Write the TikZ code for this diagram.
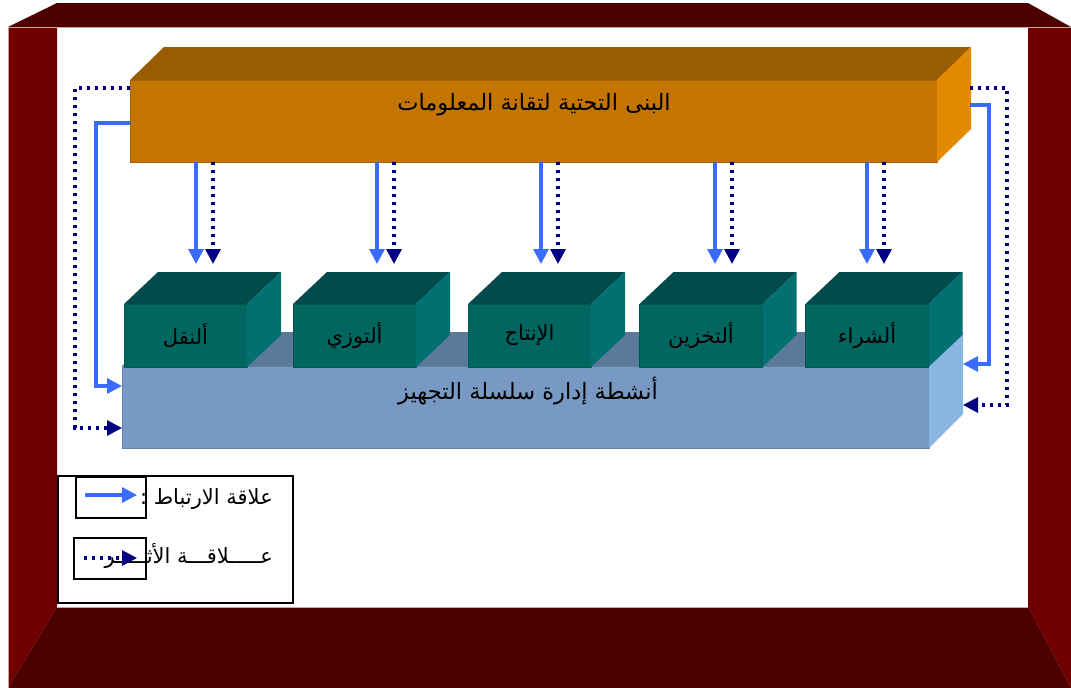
\documentclass[tikz,border=0pt]{standalone}
\usepackage{fontspec}
\newfontfamily\arabicfont[Script=Arabic]{DejaVu Sans}
\TeXXeTstate=1
\usetikzlibrary{arrows.meta,calc}

\definecolor{wallfloor}{HTML}{4C0000}
\definecolor{wallside}{HTML}{700000}
\definecolor{wallline}{HTML}{C8A4A4}
\definecolor{itfront}{HTML}{C47400}
\definecolor{ittop}{HTML}{9A5C00}
\definecolor{itside}{HTML}{E28A00}
\definecolor{actfront}{HTML}{00665F}
\definecolor{acttop}{HTML}{004C4C}
\definecolor{actside}{HTML}{007070}
\definecolor{scmfront}{HTML}{7799C3}
\definecolor{scmtop}{HTML}{5B7A99}
\definecolor{scmside}{HTML}{8AB6E2}
\definecolor{linkblue}{HTML}{3A6BFF}
\definecolor{impactnavy}{HTML}{000080}

\newcommand\artxt[1]{{\arabicfont\beginR #1\endR}}

\begin{document}
\begin{tikzpicture}[x=1pt, y=-1pt,
  face/.style = {inner sep=0pt, outer sep=0pt, fill=#1, draw=#1!85!black, line width=0.6pt},
  lbl/.style = {inner sep=0pt, font=\fontsize{22.5}{26}\selectfont},
  smalllbl/.style = {inner sep=0pt, font=\fontsize{21}{25}\selectfont},
  link/.style = {draw=linkblue, line width=3.2pt, -{Triangle[width=15pt,length=15pt]}},
  impact/.style = {draw=impactnavy, line width=3.2pt, dash pattern=on 3.2pt off 4.8pt,
    -{Triangle[width=15pt,length=15pt]}}]
  \useasboundingbox (0,0) rectangle (1071,688);

  \fill[wallfloor] (8,27) -- (57,3) -- (1028,3) -- (1071,27) -- cycle;
  \fill[wallside] (8,27) -- (57,27) -- (57,607) -- (8,688) -- cycle;
  \fill[wallside] (1028,27) -- (1071,27) -- (1071,688) -- (1028,607) -- cycle;
  \fill[wallfloor] (57,607) -- (1028,607) -- (1071,688) -- (8,688) -- cycle;
  \draw[wallline, line width=1pt] (8,688) -- (8,27) -- (1071,27);
  \draw[wallline, line width=1pt] (57,607) -- (1028,607);

  \node[face=itfront, minimum width=807pt, minimum height=82pt] (itinfra) at (533.5,121) {};
  \fill[ittop] (itinfra.north west) -- ++(34,-33) -- ($(itinfra.north east)+(34,-33)$) -- (itinfra.north east) -- cycle;
  \fill[itside] (itinfra.north east) -- ++(34,-33) -- ($(itinfra.south east)+(34,-33)$) -- (itinfra.south east) -- cycle;
  \node[lbl] (itlabel) at (534,105) {\artxt{البنى التحتية لتقانة المعلومات}};

  \node[face=scmfront, minimum width=807pt, minimum height=82pt] (scm) at (525.5,407) {};
  \fill[scmtop] (scm.north west) -- ++(34,-34) -- ($(scm.north east)+(34,-34)$) -- (scm.north east) -- cycle;
  \fill[scmside] (scm.north east) -- ++(34,-34) -- ($(scm.south east)+(34,-34)$) -- (scm.south east) -- cycle;
  \node[lbl] (scmlabel) at (528,391) {\artxt{أنشطة إدارة سلسلة التجهيز}};

  \foreach \nm/\cx/\sx/\txt in {naql/185.5/196/ألنقل, tawzi/354.5/377/ألتوزي,
      intaj/529.5/541/الإنتاج, takhzin/701/715/ألتخزين, shira/867/867/ألشراء} {
    \node[face=actfront, minimum width=123pt, minimum height=63pt, smalllbl] (\nm) at (\cx,335.5) {\artxt{\txt}};
    \fill[acttop] (\nm.north west) -- ++(34,-32) -- ($(\nm.north east)+(34,-32)$) -- (\nm.north east) -- cycle;
    \fill[actside] (\nm.north east) -- ++(34,-32) -- ($(\nm.south east)+(34,-32)$) -- (\nm.south east) -- cycle;
    \coordinate (\nm-ls) at (\sx,162);
    \coordinate (\nm-le) at (\sx,264);
    \coordinate (\nm-is) at (\sx+17,162);
    \coordinate (\nm-ie) at (\sx+17,264);
    \draw[link] (\nm-ls) -- (\nm-le);
    \draw[impact] (\nm-is) -- (\nm-ie);
  }

  \coordinate (itL1) at (130,88);
  \coordinate (itL2) at (130,123);
  \coordinate (itR1) at (970,88);
  \coordinate (itR2) at (970,105);
  \coordinate (scmL1) at (122,386);
  \coordinate (scmL2) at (122,428);
  \coordinate (scmR1) at (963,364);
  \coordinate (scmR2) at (963,405);
  \draw[impact] (itL1) -- ++(-55,0) |- (scmL2);
  \draw[link] (itL2) -- ++(-34,0) |- (scmL1);
  \draw[impact] (itR1) -- ++(37,0) |- (scmR2);
  \draw[link] (itR2) -- ++(19,0) |- (scmR1);

  \node[draw, line width=1.5pt, fill=white, minimum width=235pt, minimum height=127pt, inner sep=0pt] (legend) at (175.5,539.5) {};
  \node[smalllbl, anchor=east] (linktxt) at (273,499) {\artxt{علاقة الارتباط :}};
  \node[smalllbl, anchor=east] (impacttxt) at (273,556) {\artxt{عـــــلاقـــة الأثـــــر}};
  \node[draw, line width=1.5pt, minimum width=70pt, minimum height=41pt, inner sep=0pt] (linkkey) at (111,497.5) {};
  \node[draw, line width=1.5pt, minimum width=72pt, minimum height=41pt, inner sep=0pt] (impactkey) at (110,558.5) {};
  \coordinate (lk-s) at (85,495);
  \coordinate (lk-e) at (137,495);
  \coordinate (ik-s) at (84,558);
  \coordinate (ik-e) at (137,558);
  \draw[link] (lk-s) -- (lk-e);
  \draw[impact] (ik-s) -- (ik-e);
\end{tikzpicture}
\end{document}
